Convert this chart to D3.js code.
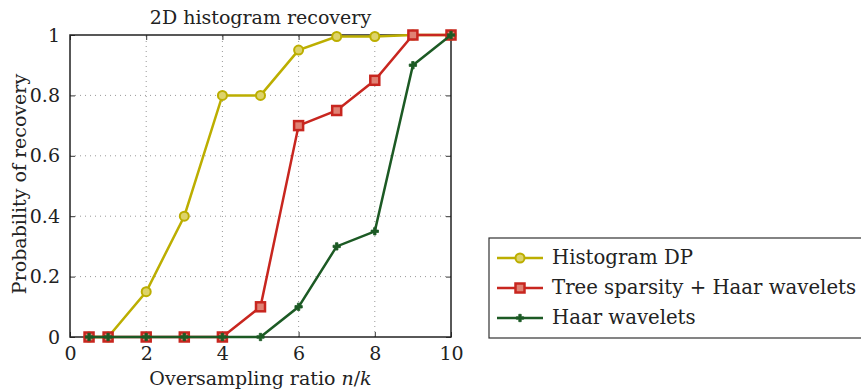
<!DOCTYPE html>
<html>
<head>
<meta charset="utf-8">
<script src="https://cdn.jsdelivr.net/npm/d3@7"></script>
<style>
  body { margin: 0; background: #fff; }
  svg { font-family: "DejaVu Serif", serif; }
</style>
</head>
<body>
<svg id="chart" width="861" height="392"></svg>
<script>
// data
var ratios = [0.5, 1, 2, 3, 4, 5, 6, 7, 8, 9, 10];
var histogramDP = [0, 0, 0.15, 0.4, 0.8, 0.8, 0.95, 0.995, 0.995, 1, 1];
var treeHaar = [0, 0, 0, 0, 0, 0.1, 0.7, 0.75, 0.85, 1, 1];
var haar = [0, 0, 0, 0, 0, 0, 0.1, 0.3, 0.35, 0.9, 1];
var xTicks = [0, 2, 4, 6, 8, 10];
var yTicks = [0, 0.2, 0.4, 0.6, 0.8, 1];
var seriesNames = ["Histogram DP", "Tree sparsity + Haar wavelets", "Haar wavelets"];

var svg = d3.select("#chart");

var x = d3.scaleLinear().domain([0, 10]).range([70, 451]);
var y = d3.scaleLinear().domain([0, 1]).range([337, 35]);

var series = [
  { name: seriesNames[0], values: histogramDP, color: "#bcae00", marker: "circle", fill: "#ddd36a" },
  { name: seriesNames[1], values: treeHaar, color: "#c8261f", marker: "square", fill: "#e08274" },
  { name: seriesNames[2], values: haar, color: "#1c5a24", marker: "plus", fill: "#1c5a24" }
];

// grid
var grid = svg.append("g").attr("stroke", "#999").attr("stroke-width", 1).attr("stroke-dasharray", "1,4");
grid.selectAll(".gx").data(xTicks.slice(1, -1)).enter().append("line")
  .attr("x1", d => x(d)).attr("x2", d => x(d))
  .attr("y1", y(0)).attr("y2", y(1));
grid.selectAll(".gy").data(yTicks.slice(1, -1)).enter().append("line")
  .attr("y1", d => y(d)).attr("y2", d => y(d))
  .attr("x1", x(0)).attr("x2", x(10));

// axes with inward ticks on all four sides
function styleAxis(g) {
  g.select(".domain").remove();
  g.selectAll(".tick line").attr("stroke", "#333").attr("stroke-width", 1);
  g.selectAll("text").attr("font-size", 19).attr("fill", "#222").attr("font-family", "DejaVu Serif");
}
svg.append("g").attr("transform", "translate(0," + y(0) + ")")
  .call(d3.axisBottom(x).tickValues(xTicks).tickSizeInner(-5).tickPadding(10).tickFormat(d3.format("d")))
  .call(styleAxis);
svg.append("g").attr("transform", "translate(0," + y(1) + ")")
  .call(d3.axisTop(x).tickValues(xTicks).tickSizeInner(-5).tickFormat(""))
  .call(styleAxis);
svg.append("g").attr("transform", "translate(" + x(0) + ",0)")
  .call(d3.axisLeft(y).tickValues(yTicks).tickSizeInner(-5).tickPadding(10).tickFormat(d => d === 0 || d === 1 ? d3.format("d")(d) : d3.format(".1f")(d)))
  .call(styleAxis);
svg.append("g").attr("transform", "translate(" + x(10) + ",0)")
  .call(d3.axisRight(y).tickValues(yTicks).tickSizeInner(-5).tickFormat(""))
  .call(styleAxis);

svg.append("rect")
  .attr("x", x(0)).attr("y", y(1))
  .attr("width", x(10) - x(0)).attr("height", y(0) - y(1))
  .attr("fill", "none").attr("stroke", "#222").attr("stroke-width", 1.5);

// lines and markers
var line = d3.line().x((d, i) => x(ratios[i])).y(d => y(d));

function drawMarker(g, s, cx, cy) {
  if (s.marker === "circle") {
    g.append("circle").attr("cx", cx).attr("cy", cy).attr("r", 4.5)
      .attr("fill", s.fill).attr("stroke", s.color).attr("stroke-width", 2);
  } else if (s.marker === "square") {
    g.append("rect").attr("x", cx - 4.5).attr("y", cy - 4.5).attr("width", 9).attr("height", 9)
      .attr("fill", s.fill).attr("stroke", s.color).attr("stroke-width", 2.5);
  } else {
    g.append("path").attr("d", d3.symbol(d3.symbolCross, 30)())
      .attr("transform", "translate(" + cx + "," + cy + ")")
      .attr("fill", s.fill).attr("stroke", s.color).attr("stroke-width", 0.8);
  }
}

series.forEach(function (s) {
  var g = svg.append("g");
  g.append("path").datum(s.values).attr("d", line)
    .attr("fill", "none").attr("stroke", s.color).attr("stroke-width", 2.5);
  s.values.forEach(function (v, i) { drawMarker(g, s, x(ratios[i]), y(v)); });
});

// title and labels
svg.append("text").attr("x", (x(0) + x(10)) / 2).attr("y", 24)
  .attr("text-anchor", "middle").attr("font-size", 19).attr("fill", "#222")
  .text("2D histogram recovery");

var xl = svg.append("text").attr("x", (x(0) + x(10)) / 2).attr("y", 385)
  .attr("text-anchor", "middle").attr("font-size", 19).attr("fill", "#222");
xl.append("tspan").text("Oversampling ratio ");
xl.append("tspan").attr("font-style", "italic").text("n");
xl.append("tspan").text("/");
xl.append("tspan").attr("font-style", "italic").text("k");

svg.append("text")
  .attr("transform", "translate(26," + ((y(0) + y(1)) / 2 - 2) + ") rotate(-90)")
  .attr("text-anchor", "middle").attr("font-size", 19).attr("fill", "#222")
  .text("Probability of recovery");

// legend
var legend = svg.append("g").attr("transform", "translate(489,238)");
legend.append("rect").attr("x", 0).attr("y", 0).attr("width", 380).attr("height", 100)
  .attr("fill", "#fff").attr("stroke", "#333").attr("stroke-width", 1.2);
series.forEach(function (s, i) {
  var row = legend.append("g").attr("transform", "translate(0," + (20 + i * 30) + ")");
  row.append("line").attr("x1", 8).attr("x2", 54).attr("y1", 0).attr("y2", 0)
    .attr("stroke", s.color).attr("stroke-width", 2.5);
  drawMarker(row, s, 31, 0);
  row.append("text").attr("x", 63).attr("y", 6).attr("font-size", 19.7).attr("fill", "#222").text(s.name);
});
</script>
</body>
</html>
